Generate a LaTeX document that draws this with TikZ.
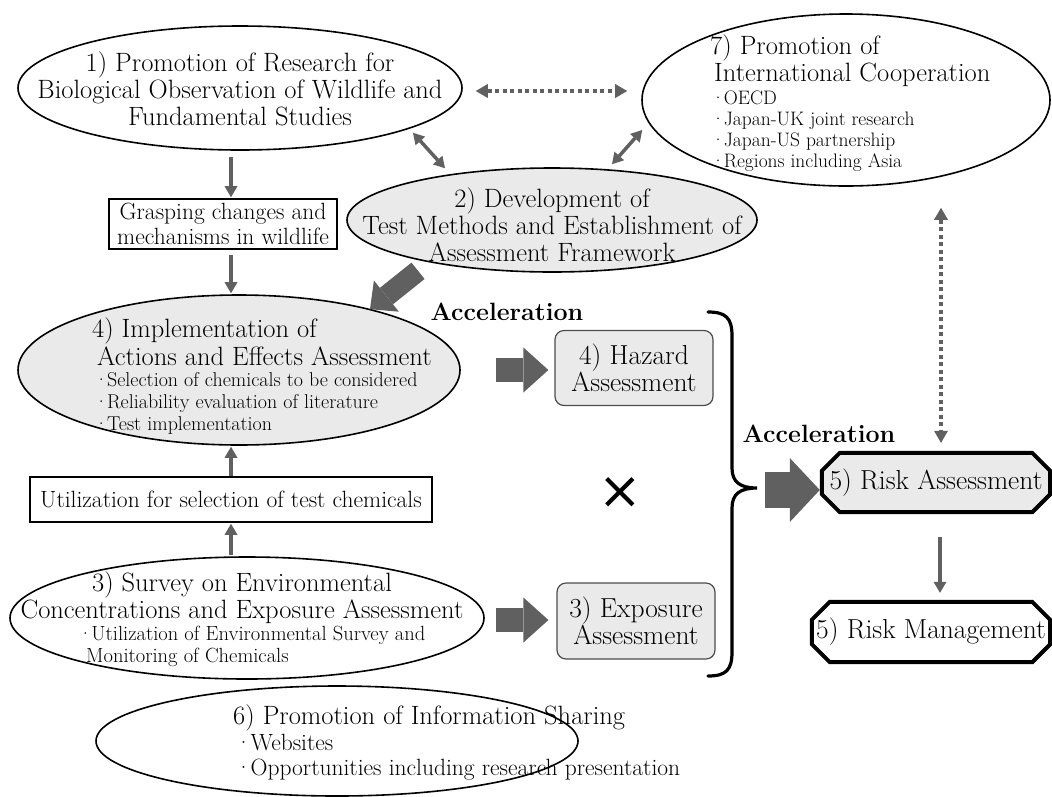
\documentclass[tikz,border=0pt]{standalone}
\usepackage{fontspec}
\newfontfamily\symfont{DejaVu Sans}
\usetikzlibrary{arrows.meta,shapes.geometric,calc}
\pgfdeclarelayer{bg}
\pgfsetlayers{bg,main}

\definecolor{arrgray}{HTML}{606060}
\definecolor{boxfill}{HTML}{EAEAEA}

% slightly darker strokes for the serif text
\newcommand\heavier{\addfontfeatures{FakeBold=0.3}}
% list bullet: a centred dot set close to its item
\newcommand\bul{·\kern-1.5pt}

\tikzset{
  ell/.style={ellipse, draw=black, line width=1.6pt, inner sep=0pt},
  greyell/.style={ell, fill=boxfill},
  bigtxt/.style={font=\fontsize{26.5}{27}\selectfont\heavier, align=center, inner sep=0pt},
  bigleft/.style={font=\fontsize{26.5}{28}\selectfont\heavier, align=left, inner sep=0pt, anchor=west},
  smalltxt/.style={font=\fontsize{19.5}{21}\selectfont\heavier, align=left, inner sep=0pt, anchor=west},
  plainbox/.style={draw=black, line width=1.6pt, inner sep=0pt, align=center,
    font=\fontsize{23.5}{25}\selectfont\heavier},
  roundbox/.style={draw=black!70, fill=boxfill, line width=1.2pt, rounded corners=9pt,
    inner sep=0pt, align=center, font=\fontsize{27.5}{27}\selectfont\heavier},
  octbox/.style={inner sep=0pt, align=center, font=\fontsize{27.5}{27}\selectfont\heavier},
  accel/.style={font=\fontsize{25}{26}\selectfont\bfseries, inner sep=0pt},
  thinarrow/.style={draw=arrgray, line width=3.5pt,
    -{Triangle[length=11pt,width=13pt,line width=0pt]}},
  thinboth/.style={draw=arrgray, line width=3.5pt,
    {Triangle[length=11pt,width=13pt,line width=0pt]}-{Triangle[length=11pt,width=13pt,line width=0pt]}},
  dotboth/.style={draw=arrgray, line width=4pt, dash pattern=on 4pt off 3.5pt,
    {Triangle[length=12pt,width=14pt,line width=0pt]}-{Triangle[length=12pt,width=14pt,line width=0pt]}},
  fatarrow/.style={draw=arrgray, line width=24pt,
    -{Triangle[length=25pt,width=45pt,line width=0pt]}},
}

% chamfered outline drawn round a rectangular node
\newcommand\octoutline[3]{%
  \begin{pgfonlayer}{bg}
  \filldraw[draw=black, line width=4pt, line join=miter, fill=#3]
    ($(#1.north west)+(#2,0)$) -- ($(#1.north east)+(-#2,0)$)
    -- ($(#1.north east)+(0,#2)$) -- ($(#1.south east)+(0,-#2)$)
    -- ($(#1.south east)+(-#2,0)$) -- ($(#1.south west)+(#2,0)$)
    -- ($(#1.south west)+(0,-#2)$) -- ($(#1.north west)+(0,#2)$) -- cycle;
  \end{pgfonlayer}}

\begin{document}
\begin{tikzpicture}[x=1pt, y=-1pt]
\useasboundingbox (0,0) rectangle (1052,796);

% ---- ellipses ----
\node[ell, minimum width=444pt, minimum height=124pt] (e1) at (240,88) {};
\node[greyell, minimum width=410pt, minimum height=104pt] (e2) at (552,220) {};
\node[ell, minimum width=408pt, minimum height=172pt] (e7) at (846,100) {};
\node[greyell, minimum width=442pt, minimum height=150pt] (e4) at (239,370) {};
\node[ell, minimum width=474pt, minimum height=122pt] (e3) at (247,618) {};
\node[ell, minimum width=482pt, minimum height=110pt] (e6) at (337,741) {};

% ---- texts inside the ellipses ----
\node[bigtxt] (t1) at (240,89) {1) Promotion of Research for\\Biological Observation of Wildlife and\\Fundamental Studies};
\node[bigtxt] (t2) at (552,225) {2) Development of\\Test Methods and Establishment of\\Assessment Framework};
\node[bigleft, font=\fontsize{26.5}{27}\selectfont\heavier] (t7a) at (710,61) {7) Promotion of\\\hspace*{4pt}International Cooperation};
\node[smalltxt] (t7b) at (711,131) {\bul OECD\\\bul Japan-UK joint research\\\bul Japan-US partnership\\\bul Regions including Asia};
\node[bigleft] (t4a) at (92,342) {4) Implementation of\\\hspace*{5pt}Actions and Effects Assessment};
\node[smalltxt, font=\fontsize{20}{22}\selectfont\heavier] (t4b) at (94,403) {\bul Selection of chemicals to be considered\\\bul Reliability evaluation of literature\\\bul Test implementation};
\node[bigtxt] (t3a) at (242,597.5) {3) Survey on Environmental\\Concentrations and Exposure Assessment};
\node[smalltxt, font=\fontsize{20.5}{22}\selectfont\heavier] (t3b) at (78,646) {\bul Utilization of Environmental Survey and\\\hspace*{8pt}Monitoring of Chemicals};
\node[bigleft] (t6a) at (233,718) {6) Promotion of Information Sharing};
\node[smalltxt, font=\fontsize{23.5}{25}\selectfont\heavier] (t6b) at (235,757.5) {\bul Websites\\\bul Opportunities including research presentation};

% ---- boxes ----
\node[plainbox, minimum width=228pt, minimum height=50pt] (grasp) at (223,224) {Grasping changes and\\mechanisms in wildlife};
\node[plainbox, minimum width=402pt, minimum height=45pt] (util) at (231,499.5) {Utilization for selection of test chemicals};
\node[roundbox, minimum width=158pt, minimum height=75pt] (haz) at (634,368) {4) Hazard\\Assessment};
\node[roundbox, minimum width=158pt, minimum height=76pt] (expo) at (636,621) {3) Exposure\\Assessment};
\node[octbox, minimum width=228pt, minimum height=59pt] (risk) at (936,482.5) {5) Risk Assessment};
\node[octbox, minimum width=238pt, minimum height=60pt] (rm) at (931,632) {5) Risk Management};
\octoutline{risk}{18}{boxfill}
\octoutline{rm}{18}{white}

% ---- labels ----
\node[accel] (acc1) at (507,312) {Acceleration};
\node[accel] (acc2) at (819,434) {Acceleration};
\node[inner sep=0pt, font=\fontsize{52}{52}\selectfont\symfont] (cross) at (620,493) {×};

% ---- brace gathering hazard and exposure ----
\coordinate (bt) at (757,488);
\draw[line width=3.2pt, line cap=round]
  (708,312) .. controls (726,312) and (732,318) .. (732,336) -- (732,468)
  .. controls (732,482) and (740,488) .. (bt)
  .. controls (740,488) and (732,494) .. (732,508) -- (732,652)
  .. controls (732,670) and (726,676) .. (708,676);

% ---- connectors ----
\coordinate (colx) at (231,0);
\draw[thinarrow] ([yshift=-6pt]e1.south -| colx) -- ([yshift=1pt]grasp.north -| colx);
\draw[thinarrow] ([yshift=-5pt]grasp.south -| colx) -- ([yshift=1pt]e4.north -| colx);
\draw[thinarrow] (util.north -| colx) -- ([yshift=-1pt]e4.south -| colx);
\draw[thinarrow] ([yshift=1pt]e3.north -| colx) -- ([yshift=-1pt]util.south -| colx);

\draw[thinboth] ($(e1.south)+(173,-18)$) -- ($(e2.north)+(-107,1)$);
\draw[thinboth] ($(e2.north)+(60,-3)$) -- ($(e7.west)+(1,30)$);
\draw[dotboth] ($(e1.east)+(13,3)$) -- ($(e7.west)+(-14,-9)$);
\draw[dotboth] ($(e7.south)+(95,21)$) -- ($(risk.north)+(5,-10)$);

\draw[fatarrow, line width=21pt, -{Triangle[length=21pt,width=40pt,line width=0pt]}]
  ($(e2.south)+(-134,-2)$) -- ($(e4.north)+(131,15)$);
\draw[fatarrow] ($(e4.east)+(35,0)$) -- ($(haz.west)+(-6,2)$);
\draw[fatarrow] ($(e3.east)+(11,2)$) -- ($(expo.west)+(-8,-1)$);
\draw[fatarrow, line width=36pt, -{Triangle[length=30pt,width=64pt,line width=0pt]}]
  ($(bt)+(8,2)$) -- ($(risk.west)+(-2,7.5)$);

\draw[thinarrow] ($(risk.south)+(4,25)$) -- ($(rm.north)+(9,-9)$);
\end{tikzpicture}
\end{document}
